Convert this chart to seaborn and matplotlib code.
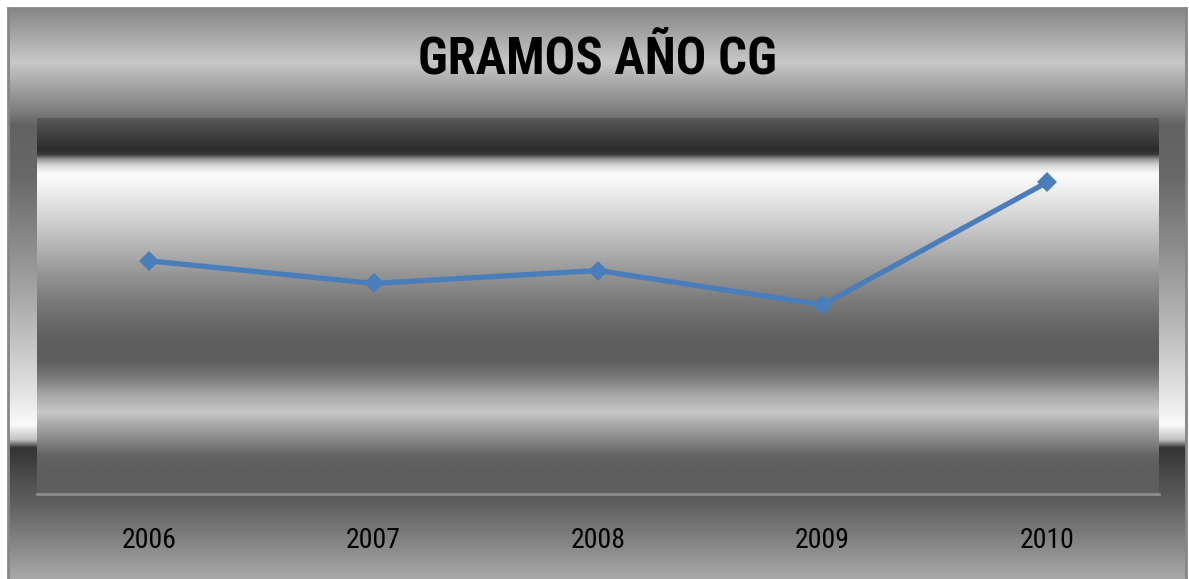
import numpy as np
import matplotlib
matplotlib.use("Agg")
import matplotlib.pyplot as plt
import seaborn as sns

# ---- data ----
years = ["2006", "2007", "2008", "2009", "2010"]
grams = [217, 196, 208, 176, 290]
title = "GRAMOS AÑO CG"

sns.set_theme(style="white")
narrow = ["Roboto Condensed", "Liberation Sans Narrow", "PT Sans Narrow", "Liberation Sans", "DejaVu Sans"]
plt.rcParams["font.family"] = narrow

W, H = 1189, 579
fig = plt.figure(figsize=(W / 100, H / 100), dpi=100)
fig.patch.set_facecolor("white")

def column(stops, n):
    ys = np.array([s[0] for s in stops], float)
    vs = np.array([s[1] for s in stops], float) / 255.0
    rows = np.linspace(ys[0], ys[-1], n)
    g = np.interp(rows, ys, vs)
    return np.repeat(g[:, None, None], 3, axis=2).repeat(2, axis=1)

# outer chart-area background (y pixels from top)
outer_stops = [(8, 0x85), (62, 0xC8), (108, 0x82), (125, 0x62), (175, 0x68),
               (250, 0x8E), (300, 0xAA), (350, 0xC8), (400, 0xE8), (425, 0xFA),
               (440, 0xC0), (448, 0x33), (480, 0x4E), (500, 0x5C), (530, 0x78),
               (579, 0xA8)]
bg = fig.add_axes([8 / W, 0, (1186 - 8) / W, (579 - 8) / H])
bg.imshow(column(outer_stops, 600), aspect="auto", extent=[0, 1, 0, 1],
          interpolation="bilinear")
bg.set_xlim(0, 1); bg.set_ylim(0, 1)
bg.set_xticks([]); bg.set_yticks([])
for s in ["left", "right", "top"]:
    bg.spines[s].set_color("#868686")
    bg.spines[s].set_linewidth(2)
bg.spines["bottom"].set_visible(False)

# plot-area background
pl, pr, pt, pb = 37, 1159, 118, 494
rect = [pl / W, (H - pb) / H, (pr - pl) / W, (pb - pt) / H]
pbg = fig.add_axes(rect)
plot_stops = [(118, 0x5A), (150, 0x2C), (155, 0x3A), (160, 0x99), (166, 0xD8),
              (175, 0xFC), (190, 0xF0), (210, 0xDC), (240, 0xBC), (270, 0x9A),
              (300, 0x7C), (330, 0x64), (345, 0x5E), (362, 0x5E), (380, 0x7E),
              (395, 0xA6), (413, 0xC8), (425, 0xA8), (440, 0x88), (455, 0x64),
              (470, 0x5E), (494, 0x5E)]
pbg.imshow(column(plot_stops, 600), aspect="auto", extent=[0, 1, 0, 1],
           interpolation="bilinear")
pbg.set_xlim(0, 1); pbg.set_ylim(0, 1)
pbg.set_axis_off()

# main axes
ax = fig.add_axes(rect)
ax.set_facecolor("none")
sns.lineplot(x=years, y=grams, ax=ax, color="#4A7EBB", linewidth=3.8,
             marker="D", markersize=10, markeredgewidth=0, sort=False)
ax.set_xlim(-0.5, len(years) - 0.5)
ax.set_ylim(0, 350)
ax.set_yticks([])
ax.set_xlabel(""); ax.set_ylabel("")
for s in ["left", "right", "top"]:
    ax.spines[s].set_visible(False)
ax.spines["bottom"].set_color("#8C8C8C")
ax.spines["bottom"].set_linewidth(2)
ax.tick_params(axis="x", length=0, pad=24, labelsize=20, labelcolor="black")
for lab in ax.get_xticklabels():
    lab.set_family(narrow)

fig.text(597 / W, 1 - 60 / H, title, ha="center", va="center",
         fontsize=36.5, fontweight="bold", color="black", family=narrow)

fig.savefig("out.png", dpi=100)
